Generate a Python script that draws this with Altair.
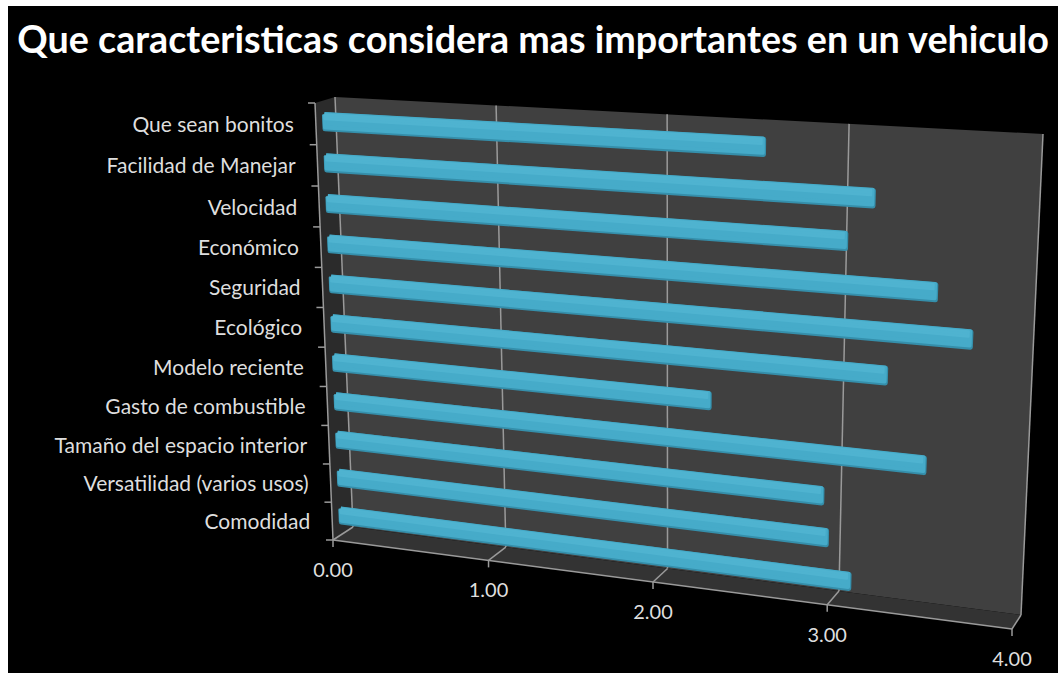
import numpy as np
import pandas as pd
import altair as alt

W, H = 1058, 673
categories = ["Que sean bonitos", "Facilidad de Manejar", "Velocidad", "Económico", "Seguridad",
              "Ecológico", "Modelo reciente", "Gasto de combustible", "Tamaño del espacio interior",
              "Versatilidad (varios usos)", "Comodidad"]
values = [2.60, 3.19, 3.05, 3.53, 3.72, 3.28, 2.31, 3.50, 2.95, 2.98, 3.11]
value_ticks = [0, 1, 2, 3, 4]
title_text = "Que caracteristicas considera mas importantes en un vehiculo"
AXIS_MAX = 4.0


def homography(top_left, top_right, bottom_right, bottom_left):
    """Projective map from (value fraction, height fraction) to the page."""
    src = [(0, 1), (1, 1), (1, 0), (0, 0)]
    dst = [top_left, top_right, bottom_right, bottom_left]
    a, b = [], []
    for (u, w), (x, y) in zip(src, dst):
        a.append([u, w, 1, 0, 0, 0, -u * x, -w * x]); b.append(x)
        a.append([0, 0, 0, u, w, 1, -u * y, -w * y]); b.append(y)
    m = np.append(np.linalg.solve(np.array(a, float), np.array(b, float)), 1).reshape(3, 3)

    def project(v, w):
        p = m @ np.array([v / AXIS_MAX, w, 1.0])
        return float(p[0] / p[2]), float(p[1] / p[2])
    return project


front = homography((315, 103), (1034, 141), (1012, 629), (333, 540))
back = homography((335, 97), (1043, 134), (1021, 615), (353, 527))
middle = homography((322, 101), (1037, 139), (1015, 624), (340, 534))

x_scale = alt.Scale(domain=[0, W], nice=False, zero=False)
y_scale = alt.Scale(domain=[H, 0], nice=False, zero=False)
X = alt.X("x:Q", scale=x_scale, axis=None)
Y = alt.Y("y:Q", scale=y_scale, axis=None)


def polygon(points, fill, stroke=None, width=0):
    frame = pd.DataFrame(
        [{"x": x, "y": y, "i": i} for i, (x, y) in enumerate(list(points) + [points[0]])]
    )
    return alt.Chart(frame).mark_line(
        fill=fill, stroke=stroke or fill, strokeWidth=width, strokeJoin="round"
    ).encode(x=X, y=Y, order=alt.Order("i:Q"))


def segments(pairs, color, width=1.2):
    rows = []
    for k, (p, q) in enumerate(pairs):
        rows.append({"x": p[0], "y": p[1], "k": k, "i": 0})
        rows.append({"x": q[0], "y": q[1], "k": k, "i": 1})
    return alt.Chart(pd.DataFrame(rows)).mark_line(color=color, strokeWidth=width).encode(
        x=X, y=Y, detail="k:N", order=alt.Order("i:Q")
    )


n = len(categories)
band = lambda idx: (n - 1 - idx + 0.5) / n  # first category sits at the top

layers = [
    alt.Chart(pd.DataFrame({"a": [0]})).mark_rect(color="black").encode(
        x=alt.value(8), x2=alt.value(W), y=alt.value(6), y2=alt.value(H)
    ),
    polygon([back(0, 1), back(4, 1), back(4, 0), back(0, 0)], "#404040"),
    polygon([front(0, 1), back(0, 1), back(0, 0), front(0, 0)], "#2b2b2b"),
    polygon([front(0, 0), back(0, 0), back(4, 0), front(4, 0)], "#333333"),
]

grid = [(back(v, 1), back(v, 0)) for v in value_ticks]
floor = [(back(v, 0), front(v, 0)) for v in value_ticks]
layers.append(segments(grid + floor, "#9a9a9a", 1.5))

edges = [(front(0, 1), front(0, 0)), (front(0, 0), front(4, 0))]
ticks_v = [(front(v, 0), (front(v, 0)[0], front(v, 0)[1] + 7)) for v in value_ticks]
ticks_c = [(front(0, k / n), (front(0, k / n)[0] - 7, front(0, k / n)[1])) for k in range(n + 1)]
layers.append(segments(edges + ticks_v + ticks_c, "#9a9a9a", 1.5))

# Each bar is a stack of slim polygons: rim, body, lit upper strip.
# The strokes are wide and round-joined so the ends come out soft.
HALF = 0.0155
ROUND = 0.012
for idx, val in enumerate(values):
    c = band(idx)
    strip = lambda lo, hi, end=val, start=0.0: [
        middle(start, c + hi), middle(end, c + hi), middle(end, c + lo), middle(start, c + lo)
    ]
    layers.append(polygon(strip(-HALF, HALF, val - ROUND, 0.012), "#358fab", "#358fab", 5))
    layers.append(polygon(strip(-HALF * 0.8, HALF * 1.1, val - ROUND - 0.004, 0.012), "#46abc9", "#46abc9", 4))
    layers.append(polygon(strip(HALF * 0.4, HALF * 1.05, val - ROUND - 0.012, 0.012), "#4fb3d0", "#4fb3d0", 2.5))

label_rows = [
    {"x": front(0, band(i))[0] - 22, "y": front(0, band(i))[1] + 2, "t": categories[i]} for i in range(n)
]
layers.append(
    alt.Chart(pd.DataFrame(label_rows)).mark_text(
        align="right", baseline="middle", font="Lato", fontSize=21, color="#dedede"
    ).encode(x=X, y=Y, text="t:N")
)
tick_rows = [
    {"x": front(v, 0)[0], "y": front(v, 0)[1] + 31, "t": f"{v:.2f}"} for v in value_ticks
]
layers.append(
    alt.Chart(pd.DataFrame(tick_rows)).mark_text(
        align="center", baseline="middle", font="Lato", fontSize=20, color="#dedede"
    ).encode(x=X, y=Y, text="t:N")
)
layers.append(
    alt.Chart(pd.DataFrame({"t": [title_text]})).mark_text(
        align="center", baseline="middle", font="Lato", fontWeight="bold", fontSize=37.7, color="white"
    ).encode(x=alt.value(533), y=alt.value(42), text="t:N")
)

chart = alt.layer(*layers).properties(
    width=W, height=H, padding=0, background="white",
    autosize=alt.AutoSizeParams(type="none"),
).configure_view(stroke=None)
chart.save("out.html", embed_options={"renderer": "svg", "actions": False})
